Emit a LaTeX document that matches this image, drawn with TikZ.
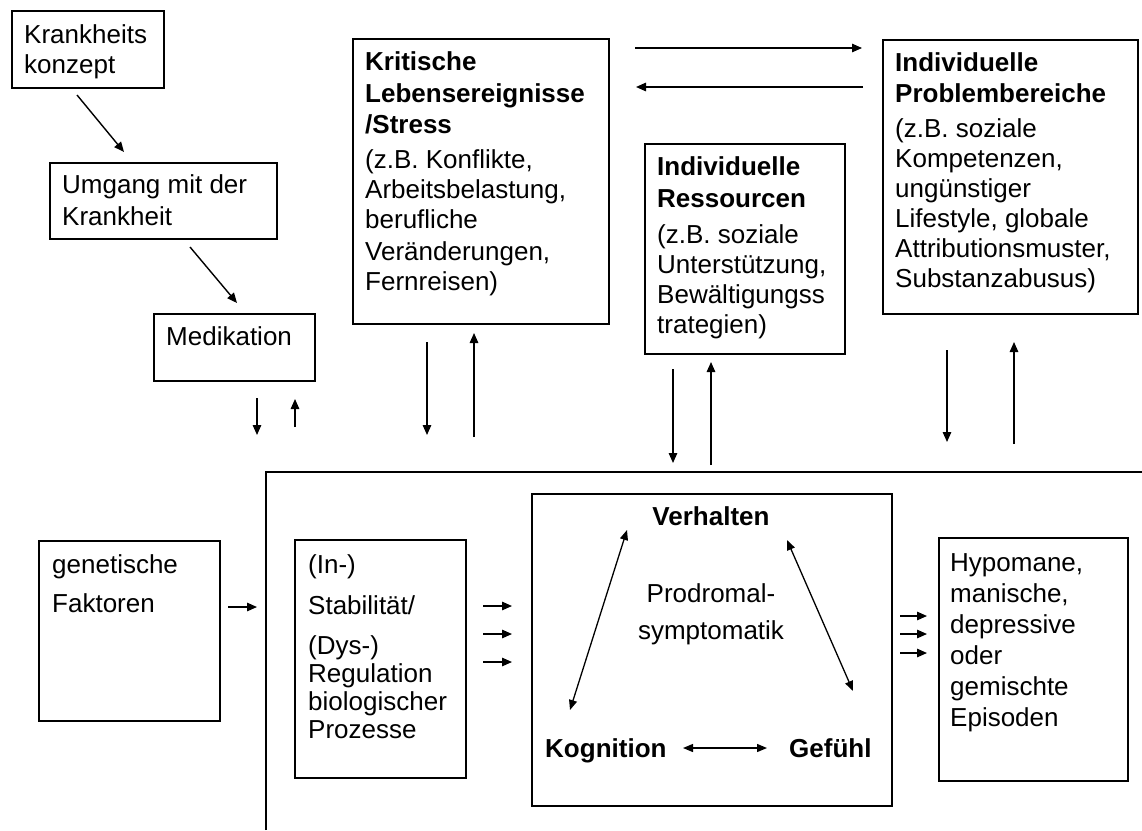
\documentclass[tikz,border=0pt]{standalone}
\usepackage{fontspec}
\setmainfont{Liberation Sans}
\usetikzlibrary{arrows.meta}
\newcommand{\ltab}[1]{\begin{tabular}[t]{@{}l@{}}#1\end{tabular}}
\newcommand{\ctab}[1]{\begin{tabular}[t]{@{}c@{}}#1\end{tabular}}
\begin{document}
\begin{tikzpicture}[x=1pt,y=-1pt,
  box/.style={draw, line width=1.8pt, inner sep=0pt, anchor=north west},
  txt/.style={anchor=base west, inner sep=0pt},
  arr/.style={line width=1.4pt, -{Triangle[length=10pt,width=8.5pt]}},
  darr/.style={line width=1.3pt, {Triangle[length=10pt,width=8pt]}-{Triangle[length=10pt,width=8pt]}},
  frame/.style={line width=1.8pt}]
\useasboundingbox (0,0) rectangle (1142,830);
% boxes
\node[box, minimum width=152pt, minimum height=77pt] (krank) at (11,10) {};
\node[box, minimum width=227pt, minimum height=76pt] (umgang) at (49,162) {};
\node[box, minimum width=161pt, minimum height=67pt] (medik) at (153,313) {};
\node[box, minimum width=256pt, minimum height=285pt] (krit) at (352,38) {};
\node[box, minimum width=200pt, minimum height=210pt] (ress) at (644,143) {};
\node[box, minimum width=255pt, minimum height=274pt] (prob) at (882,39) {};
\node[box, minimum width=181pt, minimum height=180pt] (gen) at (38,540) {};
\node[box, minimum width=171pt, minimum height=238pt] (stab) at (294,539) {};
\node[box, minimum width=360pt, minimum height=312pt] (zent) at (531,493) {};
\node[box, minimum width=189pt, minimum height=243pt] (hypo) at (938,537) {};
% texts
\node[txt, font=\fontsize{26}{30}\selectfont] (tkrank) at (24,43) {\ltab{Krankheits\\konzept}};
\node[txt, font=\fontsize{26}{32}\selectfont] (tumgang) at (62,193) {\ltab{Umgang mit der\\Krankheit}};
\node[txt, font=\fontsize{26}{30}\selectfont] (tmedik) at (166,345) {Medikation};
\node[txt, font=\fontsize{26}{30}\selectfont] (tkrit) at (365,70) {\ltab{\textbf{Kritische}\\[2pt]\textbf{Lebensereignisse}\\[1pt]\textbf{/Stress}\\[5pt](z.B. Konflikte,\\Arbeitsbelastung,\\berufliche\\[2pt]Veränderungen,\\Fernreisen)}};
\node[txt, font=\fontsize{26}{30}\selectfont] (tress) at (657,175) {\ltab{\textbf{Individuelle}\\[2pt]\textbf{Ressourcen}\\[6pt](z.B. soziale\\Unterstützung,\\Bewältigungss\\trategien)}};
\node[txt, font=\fontsize{26}{30}\selectfont] (tprob) at (895,71) {\ltab{\textbf{Individuelle}\\[1pt]\textbf{Problembereiche}\\[5pt](z.B. soziale\\Kompetenzen,\\ungünstiger\\Lifestyle, globale\\Attributionsmuster,\\Substanzabusus)}};
\node[txt, font=\fontsize{26}{39}\selectfont] (tgen) at (52,573) {\ltab{genetische\\Faktoren}};
\node[txt, font=\fontsize{26}{28}\selectfont] (tstab) at (308,573) {\ltab{(In-)\\[13pt]Stabilität/\\[12pt](Dys-)\\Regulation\\biologischer\\Prozesse}};
\node[txt, font=\fontsize{26}{31}\selectfont] (thypo) at (950,571) {\ltab{Hypomane,\\manische,\\depressive\\oder\\gemischte\\Episoden}};
\node[anchor=base, inner sep=0pt, font=\bfseries\fontsize{26}{30}\selectfont] (verh) at (711,525) {Verhalten};
\node[anchor=base, inner sep=0pt, font=\fontsize{26}{37}\selectfont] (prodr) at (711,602) {\ctab{Prodromal-\\symptomatik}};
\node[txt, font=\bfseries\fontsize{26}{30}\selectfont] (kogn) at (545,757) {Kognition};
\node[txt, font=\bfseries\fontsize{26}{30}\selectfont] (gef) at (789,757) {Gefühl};
% frame
\coordinate (fb) at (266,830);
\coordinate (fc) at (266,472);
\coordinate (fr) at (1142,472);
\draw[frame] (fb) -- (fc) -- (fr);
% arrow end points
\coordinate (a1s) at (77,95);   \coordinate (a1e) at (124,152);
\coordinate (a2s) at (190,247); \coordinate (a2e) at (237,303);
\coordinate (mds) at (257,398); \coordinate (mde) at (257,435);
\coordinate (mus) at (295,427); \coordinate (mue) at (295,399);
\coordinate (kds) at (427,342); \coordinate (kde) at (427,435);
\coordinate (kus) at (474,437); \coordinate (kue) at (474,333);
\coordinate (rds) at (673,369); \coordinate (rde) at (673,463);
\coordinate (rus) at (711,465); \coordinate (rue) at (711,362);
\coordinate (pds) at (947,350); \coordinate (pde) at (947,442);
\coordinate (pus) at (1014,444); \coordinate (pue) at (1014,342);
\coordinate (trs) at (635,48);  \coordinate (tre) at (862,48);
\coordinate (tls) at (863,87);  \coordinate (tle) at (636,87);
\coordinate (gas) at (228,607); \coordinate (gae) at (257,607);
\coordinate (s1s) at (483,606); \coordinate (s1e) at (512,606);
\coordinate (s2s) at (483,634); \coordinate (s2e) at (512,634);
\coordinate (s3s) at (483,662); \coordinate (s3e) at (512,662);
\coordinate (h1s) at (900,616); \coordinate (h1e) at (927,616);
\coordinate (h2s) at (900,634); \coordinate (h2e) at (927,634);
\coordinate (h3s) at (900,653); \coordinate (h3e) at (927,653);
\coordinate (kgs) at (683,748); \coordinate (kge) at (767,748);
\coordinate (lds) at (570,710); \coordinate (lde) at (627,530);
\coordinate (rgs) at (787,540); \coordinate (rge) at (853,691);
% arrows
\draw[arr] (a1s) -- (a1e);
\draw[arr] (a2s) -- (a2e);
\draw[arr] (mds) -- (mde);
\draw[arr] (mus) -- (mue);
\draw[arr] (kds) -- (kde);
\draw[arr] (kus) -- (kue);
\draw[arr] (rds) -- (rde);
\draw[arr] (rus) -- (rue);
\draw[arr] (pds) -- (pde);
\draw[arr] (pus) -- (pue);
\draw[arr] (trs) -- (tre);
\draw[arr] (tls) -- (tle);
\draw[arr] (gas) -- (gae);
\draw[arr] (s1s) -- (s1e);
\draw[arr] (s2s) -- (s2e);
\draw[arr] (s3s) -- (s3e);
\draw[arr] (h1s) -- (h1e);
\draw[arr] (h2s) -- (h2e);
\draw[arr] (h3s) -- (h3e);
\draw[darr] (kgs) -- (kge);
\draw[darr] (lds) -- (lde);
\draw[darr] (rgs) -- (rge);
\end{tikzpicture}
\end{document}
